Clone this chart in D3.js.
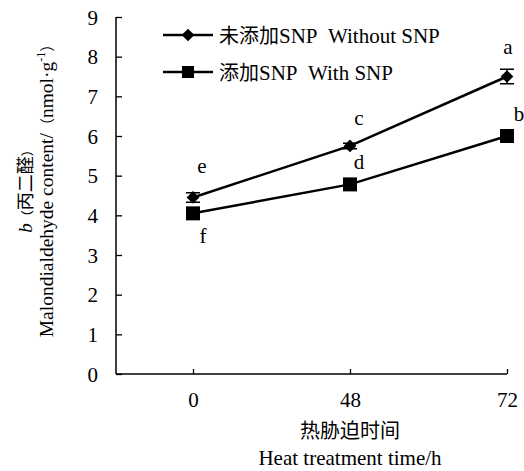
<!DOCTYPE html>
<html><head><meta charset="utf-8">
<script src="https://cdn.jsdelivr.net/npm/d3@7"></script>
<style>body{margin:0;background:#fff}svg{display:block}</style>
</head><body>
<script>
const categories = ["0", "48", "72"];
const withoutSNP = [4.45, 5.75, 7.5];
const withoutErr = [0.12, 0.07, 0.18];
const withSNP = [4.05, 4.78, 6.0];
const withErr = [0.05, 0.05, 0.05];
const withoutLetters = ["e", "c", "a"];
const withLetters = ["f", "d", "b"];
const yTicks = [0,1,2,3,4,5,6,7,8,9];

const W = 524, H = 471;
const FONT = "'Liberation Serif','Times New Roman','Noto Sans CJK SC',serif";
const svg = d3.select("body").append("svg").attr("width", W).attr("height", H)
  .attr("font-family", FONT).style("font-family", FONT);

const x0 = 116, x1 = 507;
const x = d3.scalePoint().domain(categories).range([193, 507]);
const y = d3.scaleLinear().domain([0, 9]).range([374, 17]);

// y axis
const ya = svg.append("g").attr("transform", `translate(${x0},0)`)
  .call(d3.axisRight(y).tickValues(yTicks).tickSize(6).tickFormat(d3.format("d")))
  .attr("font-family", FONT).attr("font-size", 21);
ya.select(".domain").attr("stroke", "#000").attr("stroke-width", 1.5).attr("d", `M0,${y(9)}V${y(0)}`);
ya.selectAll(".tick line").attr("stroke", "#000").attr("stroke-width", 1.3);
ya.selectAll(".tick text").attr("x", -18).attr("text-anchor", "end").attr("dy", "0.34em")
  .style("font-family", FONT).attr("fill", "#000");

// x axis
const xa = svg.append("g").attr("transform", `translate(0,${y(0)})`)
  .call(d3.axisTop(x).tickSize(5).tickFormat(d => d))
  .attr("font-family", FONT).attr("font-size", 21);
xa.select(".domain").attr("stroke", "#000").attr("stroke-width", 1.5).attr("d", `M${x0},0H${x1}`);
xa.selectAll(".tick line").attr("stroke", "#000").attr("stroke-width", 1.3);
xa.selectAll(".tick text").attr("y", 33).attr("dy", 0)
  .style("font-family", FONT).attr("fill", "#000");

// axis titles
svg.append("text").attr("x", 350).attr("y", 438).attr("text-anchor", "middle")
  .attr("font-size", 20).text("热胁迫时间");
svg.append("text").attr("x", 350).attr("y", 465).attr("text-anchor", "middle")
  .attr("font-size", 21).text("Heat treatment time/h");

const yl1 = svg.append("text").attr("transform", "translate(32,188) rotate(-90)")
  .attr("text-anchor", "middle").attr("font-size", 19);
yl1.append("tspan").attr("font-style", "italic").text("b");
yl1.append("tspan").attr("font-size", 13).text("（");
yl1.append("tspan").attr("font-size", 18).text("丙二醛");
yl1.append("tspan").attr("font-size", 13).text("）");

const yl2 = svg.append("text").attr("transform", "translate(53,187) rotate(-90)")
  .attr("text-anchor", "middle").attr("font-size", 19.5);
yl2.append("tspan").text("Malondialdehyde content/");
yl2.append("tspan").attr("font-size", 15).text("（");
yl2.append("tspan").text("nmol·g");
yl2.append("tspan").attr("font-size", 12).attr("dy", -8).text("-1");
yl2.append("tspan").attr("font-size", 15).attr("dy", 8).text("）");

const line = d3.line().x((d, i) => x(categories[i])).y(d => y(d));
const diamond = d3.symbol().type(d3.symbolSquare).size(81);

function drawSeries(vals, errs, kind) {
  const g = svg.append("g");
  g.append("path").datum(vals).attr("d", line).attr("fill", "none").attr("stroke", "#000").attr("stroke-width", 2.5);
  vals.forEach((v, i) => {
    const cx = x(categories[i]);
    const e = errs[i];
    g.append("path").attr("d", `M${cx},${y(v + e)}V${y(v - e)}M${cx - 7},${y(v + e)}H${cx + 7}M${cx - 7},${y(v - e)}H${cx + 7}`)
      .attr("stroke", "#000").attr("stroke-width", 1.5).attr("fill", "none");
    if (kind === "diamond") {
      g.append("path").attr("d", diamond()).attr("transform", `translate(${cx},${y(v)}) rotate(45)`).attr("fill", "#000");
    } else {
      g.append("rect").attr("x", cx - 7).attr("y", y(v) - 7).attr("width", 14).attr("height", 14).attr("fill", "#000");
    }
  });
}
drawSeries(withoutSNP, withoutErr, "diamond");
drawSeries(withSNP, withErr, "square");

// significance letters (baseline offsets relative to the point)
const letterPos = [
  { t: withoutLetters[0], cx: x(categories[0]) + 9, by: y(withoutSNP[0]) - 24 },
  { t: withoutLetters[1], cx: x(categories[1]) + 9, by: y(withoutSNP[1]) - 21 },
  { t: withoutLetters[2], cx: x(categories[2]) + 1, by: y(withoutSNP[2]) - 23 },
  { t: withLetters[0], cx: x(categories[0]) + 10, by: y(withSNP[0]) + 30 },
  { t: withLetters[1], cx: x(categories[1]) + 9, by: y(withSNP[1]) - 15 },
  { t: withLetters[2], cx: x(categories[2]) + 12, by: y(withSNP[2]) - 15 }
];
svg.selectAll("text.lt").data(letterPos).enter().append("text").attr("class", "lt")
  .attr("x", d => d.cx).attr("y", d => d.by).attr("text-anchor", "middle")
  .attr("font-size", 21).text(d => d.t);

// legend
const legend = [
  { label: "未添加", en: "SNP\u00a0\u00a0Without SNP", kind: "diamond", ly: 35 },
  { label: "添加", en: "SNP\u00a0\u00a0With SNP", kind: "square", ly: 72 }
];
legend.forEach(l => {
  svg.append("line").attr("x1", 163).attr("x2", 213).attr("y1", l.ly).attr("y2", l.ly).attr("stroke", "#000").attr("stroke-width", 2.5);
  if (l.kind === "diamond") svg.append("path").attr("d", diamond()).attr("transform", `translate(188,${l.ly}) rotate(45)`);
  else svg.append("rect").attr("x", 182).attr("y", l.ly - 6).attr("width", 12).attr("height", 12);
  const t = svg.append("text").attr("x", 219).attr("y", l.ly + 8).attr("font-size", 21);
  t.append("tspan").attr("font-size", 20).text(l.label);
  t.append("tspan").text(l.en);
});
</script>
</body></html>
